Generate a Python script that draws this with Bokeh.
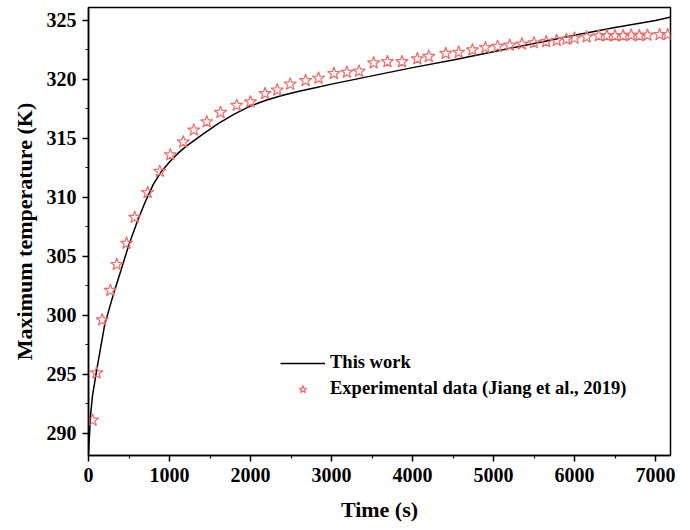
from bokeh.plotting import figure
from bokeh.models import Range1d, FixedTicker, Legend, LegendItem
from bokeh.embed import file_html
from bokeh.resources import INLINE

# Model curve ("This work")
model_t = [0, 25, 50, 100, 200, 300, 400, 500, 600, 700, 800, 900, 1000, 1100,
           1200, 1400, 1600, 1800, 2000, 2200, 2400, 2600, 2800, 3000, 3500,
           4000, 4500, 5000, 5500, 6000, 6500, 7000, 7200]
model_T = [288.3, 291.5, 293.2, 295.3, 299.2, 301.6, 303.8, 306.0, 307.9, 309.6,
           311.1, 312.2, 313.0, 313.7, 314.3, 315.3, 316.25, 317.05, 317.75,
           318.25, 318.65, 319.0, 319.3, 319.6, 320.3, 321.0, 321.65, 322.35,
           323.05, 323.75, 324.4, 325.0, 325.3]

# Experimental data (Jiang et al., 2019)
exp_t = [50, 100, 170, 270, 350, 470, 570, 730, 880, 1010, 1170, 1300, 1460, 1630,
         1830, 2000, 2180, 2330, 2490, 2680, 2840, 3030, 3190, 3340, 3520, 3690,
         3870, 4060, 4200, 4410, 4570, 4740, 4900, 5050, 5200, 5350, 5500, 5650,
         5780, 5900, 6000, 6150, 6300, 6400, 6500, 6600, 6700, 6800, 6900, 7050,
         7150]
exp_T = [291.1, 295.1, 299.6, 302.1, 304.3, 306.1, 308.3, 310.4, 312.2, 313.6,
         314.7, 315.7, 316.4, 317.2, 317.8, 318.1, 318.8, 319.1, 319.6, 319.9,
         320.1, 320.5, 320.6, 320.7, 321.4, 321.5, 321.5, 321.75, 321.95, 322.2,
         322.3, 322.5, 322.7, 322.8, 322.9, 323.0, 323.1, 323.2, 323.3, 323.4,
         323.5, 323.6, 323.7, 323.7, 323.7, 323.7, 323.75, 323.7, 323.75, 323.8,
         323.8]

x_ticks = [0, 1000, 2000, 3000, 4000, 5000, 6000, 7000]
x_minor = [500, 1500, 2500, 3500, 4500, 5500, 6500]
y_ticks = [290, 295, 300, 305, 310, 315, 320, 325]
y_minor = [292.5, 297.5, 302.5, 307.5, 312.5, 317.5, 322.5]

FONT = "Liberation Serif"

p = figure(width=690, height=530, output_backend="svg", toolbar_location=None,
           x_range=Range1d(0, 7185), y_range=Range1d(288.1, 326.1),
           min_border_left=88, min_border_right=20, min_border_top=7,
           min_border_bottom=75)
p.grid.visible = False
p.outline_line_color = "black"
p.outline_line_width = 1.5
p.background_fill_color = "white"
p.border_fill_color = "white"

ln = p.line(model_t, model_T, line_color="black", line_width=1.5)
st = p.scatter(exp_t, exp_T, marker="star", size=13, fill_color=None,
               line_color="#f26a6a", line_width=1.2)

p.xaxis.ticker = FixedTicker(ticks=x_ticks, minor_ticks=x_minor)
p.yaxis.ticker = FixedTicker(ticks=y_ticks, minor_ticks=y_minor)

for ax in (p.xaxis[0], p.yaxis[0]):
    ax.axis_line_color = "black"
    ax.axis_line_width = 1.5
    ax.major_tick_in = 0
    ax.major_tick_out = 6
    ax.minor_tick_in = 0
    ax.minor_tick_out = 3
    ax.major_tick_line_width = 1.5
    ax.minor_tick_line_width = 1.2
    ax.major_label_text_font = FONT
    ax.major_label_text_font_style = "bold"
    ax.major_label_text_font_size = "20px"
    ax.major_label_text_color = "black"
    ax.axis_label_text_font = FONT
    ax.axis_label_text_font_style = "bold"
    ax.axis_label_text_font_size = "22px"
    ax.axis_label_text_color = "black"

p.xaxis.axis_label = "Time (s)"
p.yaxis.axis_label = "Maximum temperature (K)"
p.xaxis.major_label_standoff = 6
p.yaxis.major_label_standoff = 6
p.xaxis.axis_label_standoff = 12
p.yaxis.axis_label_standoff = 7

legend = Legend(items=[LegendItem(label="This work", renderers=[ln]),
                       LegendItem(label="Experimental data (Jiang et al., 2019)",
                                  renderers=[st])],
                location=(192, 56))
legend.background_fill_alpha = 0
legend.border_line_alpha = 0
legend.padding = 0
legend.margin = 0
legend.spacing = 5
legend.glyph_width = 45
legend.glyph_height = 20
legend.label_height = 20
legend.label_standoff = 5
legend.label_text_font = FONT
legend.label_text_font_style = "bold"
legend.label_text_font_size = "18.5px"
legend.label_text_color = "black"
p.add_layout(legend)

open("out.html", "w").write(file_html(p, INLINE))
